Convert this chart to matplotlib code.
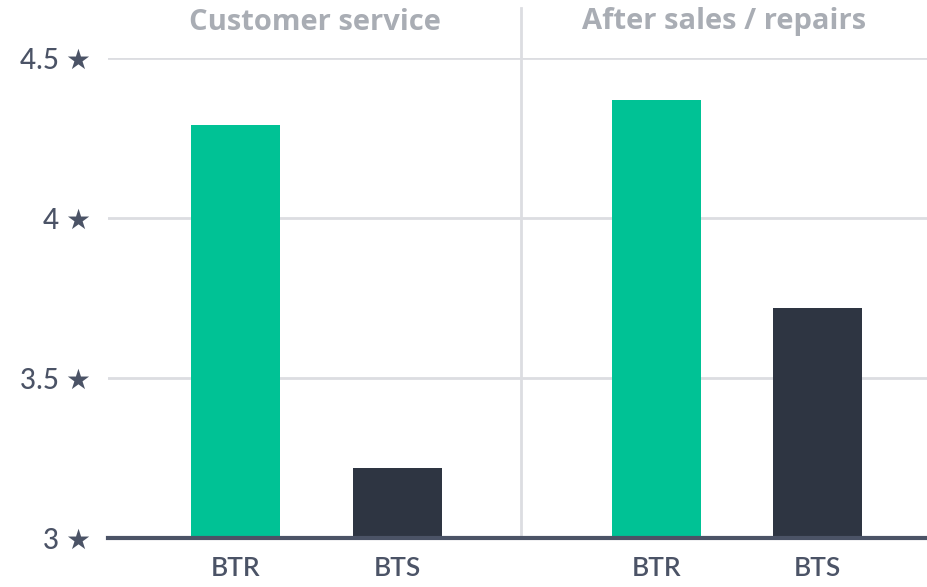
import matplotlib.pyplot as plt

# ----- DATA -----
groups = ['Customer service', 'After sales / repairs']
brands = ['BTR', 'BTS']
btr_scores = [4.29, 4.37]
bts_scores = [3.22, 3.72]
y_ticks = [3, 3.5, 4, 4.5]

plt.rcParams['font.family'] = ['Lato', 'DejaVu Sans']

GREEN = '#00c295'
DARK = '#2e3542'
TEXT = '#4b5366'
TITLE = '#a9adb4'
GRID = '#dcdde1'

fig = plt.figure(figsize=(9.28, 5.87), dpi=100)
ax = fig.add_axes([108 / 928, 49 / 587, 820 / 928, 480 / 587])

offset = 0.192
width = 0.212
for i in range(len(groups)):
    ax.bar(i - offset, btr_scores[i] - 3, width, bottom=3, color=GREEN, zorder=3)
    ax.bar(i + offset, bts_scores[i] - 3, width, bottom=3, color=DARK, zorder=3)

x0, x1 = -0.496, 1.454
divider = 0.486
ax.set_xlim(x0, x1)
ax.set_ylim(3, 4.5)

# gridlines
for t in y_ticks[1:]:
    ax.axhline(t, color=GRID, lw=2, zorder=1)
ax.axhline(3, color=TEXT, lw=3, zorder=4, clip_on=False)

# divider between the two groups
ax.plot([divider, divider], [3, 4.656], color=GRID, lw=2, zorder=2, clip_on=False)

for s in ax.spines.values():
    s.set_visible(False)

ax.set_yticks(y_ticks)
ax.set_yticklabels([f'{t:g} \u2605' for t in y_ticks], fontsize=20, color=TEXT,
                   fontweight='medium')
ax.tick_params(axis='y', length=0, pad=12)

xpos = []
xlab = []
for i in range(len(groups)):
    xpos += [i - offset, i + offset]
    xlab += brands
ax.set_xticks(xpos)
ax.set_xticklabels(xlab, fontsize=19, color=TEXT, fontweight='semibold')
ax.tick_params(axis='x', length=0, pad=13)

# group titles, centred on each panel
title_x = [(x0 + divider) / 2, (divider + x1) / 2]
for tx, g in zip(title_x, groups):
    ax.text(tx, 4.5 + 36 / 320, g, ha='center', va='center', fontsize=21,
            fontweight='bold', color=TITLE, family=['Open Sans', 'DejaVu Sans'])

fig.savefig('out.png', dpi=100)
